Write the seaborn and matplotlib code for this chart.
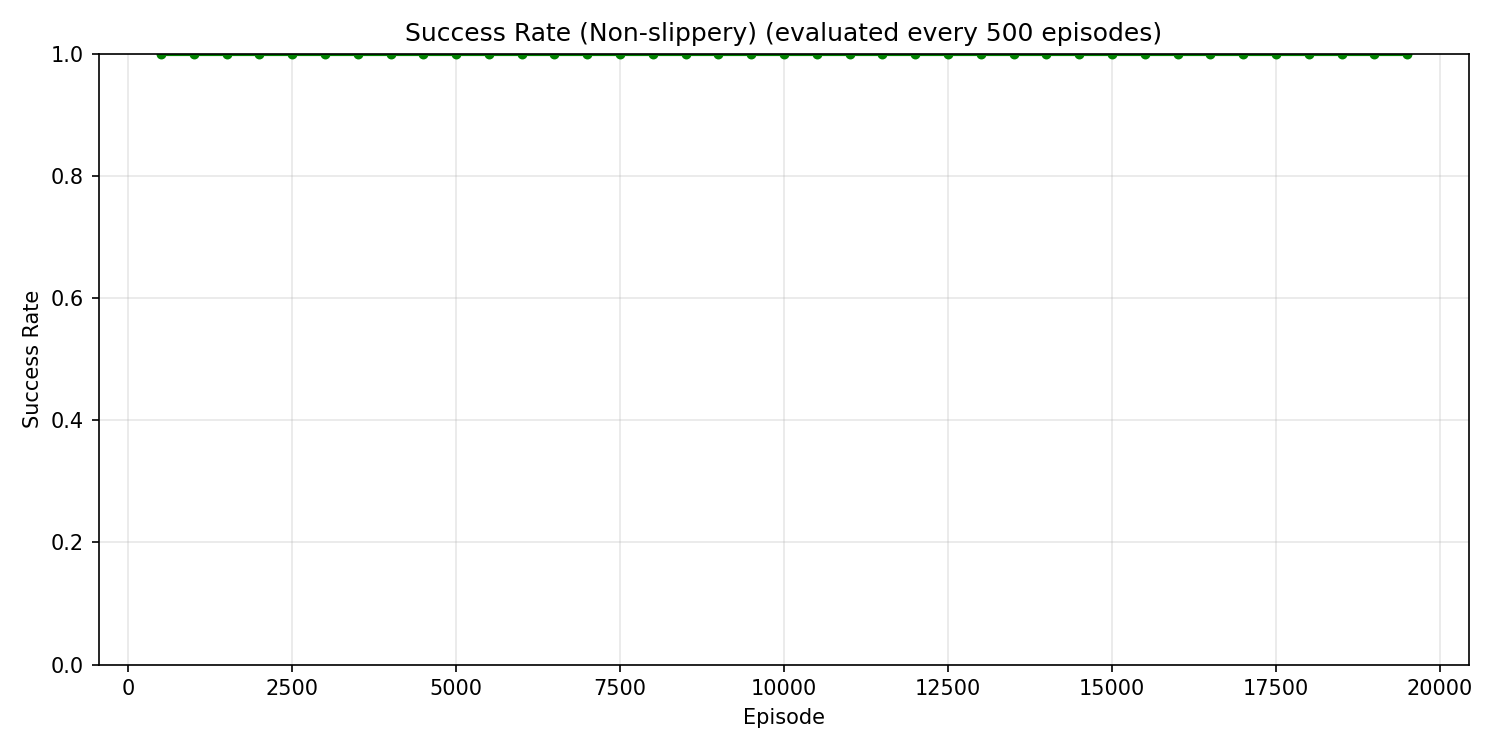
import matplotlib
matplotlib.use("Agg")
import matplotlib.pyplot as plt
import seaborn as sns
import pandas as pd

episodes = list(range(500, 20000, 500))
success = [1.0] * len(episodes)

sns.set_style("ticks")
plt.rcParams['font.family'] = ['DejaVu Sans']
plt.rcParams.update({"text.color": "black", "axes.labelcolor": "black",
                     "xtick.color": "black", "ytick.color": "black",
                     "axes.edgecolor": "black"})
fig, ax = plt.subplots(figsize=(10, 5), dpi=150)
df = pd.DataFrame({"Episode": episodes, "Success Rate": success})
sns.lineplot(data=df, x="Episode", y="Success Rate", ax=ax, color="green",
             marker="o", markersize=4, linewidth=2, markeredgecolor="green")
ax.set_ylim(0, 1.0)
ax.grid(True, alpha=0.3, color="#b0b0b0")
ax.set_title("Success Rate (Non-slippery) (evaluated every 500 episodes)", fontsize=12)
ax.set_xlabel("Episode", fontsize=10)
ax.set_ylabel("Success Rate", fontsize=10)
ax.tick_params(labelsize=10)
fig.tight_layout()
fig.savefig("out.png")
